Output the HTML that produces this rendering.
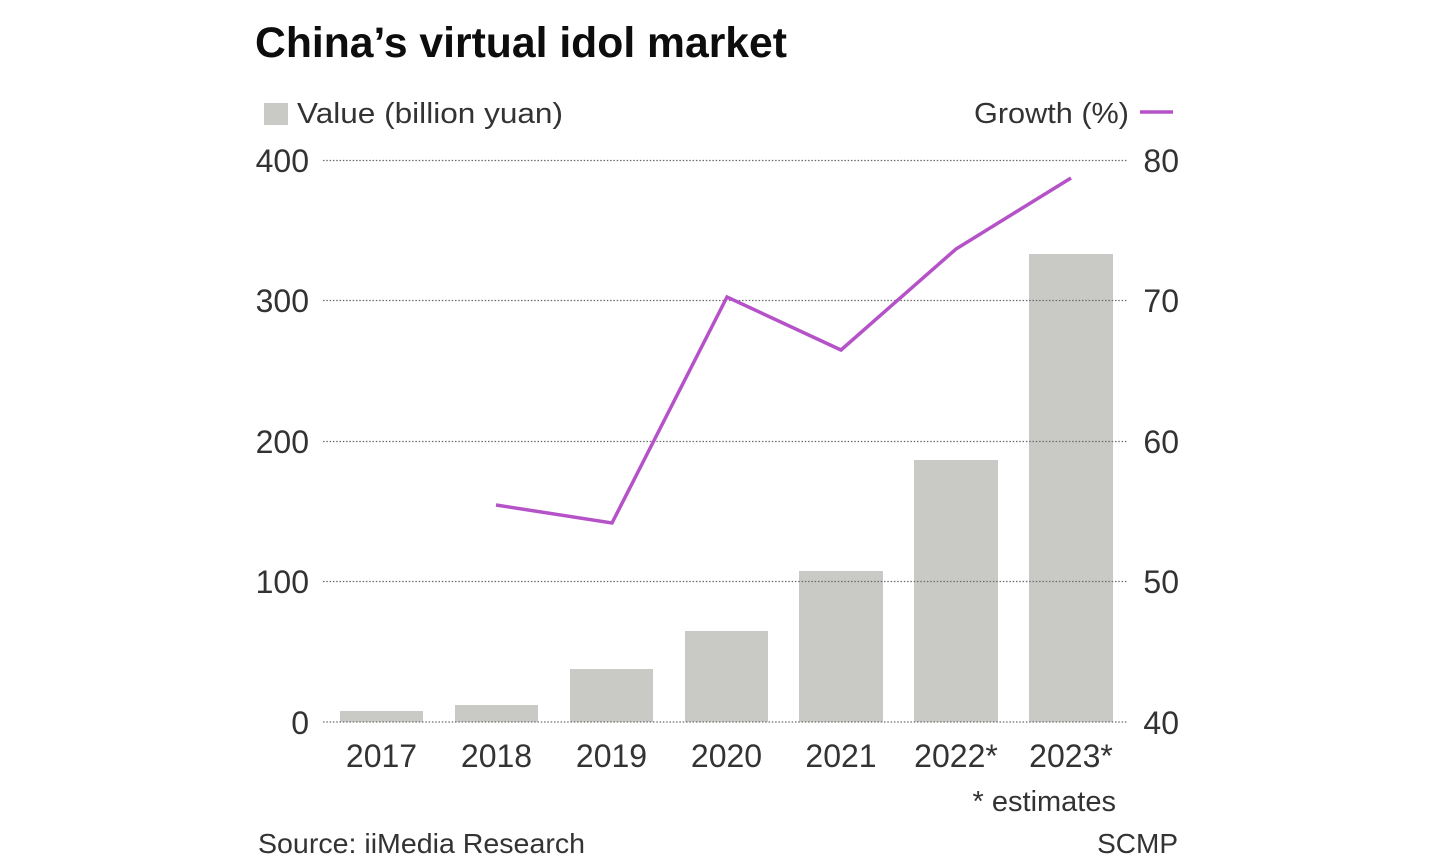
<!DOCTYPE html>
<html>
<head>
<meta charset="utf-8">
<style>
  html,body{margin:0;padding:0;background:#fff;}
  svg{display:block;}
  text{font-family:"Liberation Sans",sans-serif;}
</style>
</head>
<body>
<svg width="1429" height="866" viewBox="0 0 1429 866" xmlns="http://www.w3.org/2000/svg">
  <rect width="1429" height="866" fill="#fff"/>
  <!-- Title -->
  <text x="255" y="57" font-size="43" font-weight="bold" fill="#0d0d0d" textLength="532" lengthAdjust="spacingAndGlyphs">China’s virtual idol market</text>

  <!-- Legend -->
  <rect x="264" y="103" width="24" height="22" fill="#c9cac6"/>
  <text x="297" y="123" font-size="29" fill="#333" textLength="266" lengthAdjust="spacingAndGlyphs">Value (billion yuan)</text>
  <text x="974" y="123" font-size="29" fill="#333" textLength="155" lengthAdjust="spacingAndGlyphs">Growth (%)</text>
  <line x1="1140" y1="112" x2="1173" y2="112" stroke="#b552c8" stroke-width="3.5"/>

  <!-- Bars -->
  <g fill="#c9cac6">
    <rect x="340" y="711" width="83" height="11"/>
    <rect x="455" y="705" width="83" height="17"/>
    <rect x="570" y="669" width="83" height="53"/>
    <rect x="685" y="631" width="83" height="91"/>
    <rect x="799" y="571" width="84" height="151"/>
    <rect x="914" y="460" width="84" height="262"/>
    <rect x="1029" y="254" width="84" height="468"/>
  </g>

  <!-- Gridlines -->
  <g stroke="#6a6a6a" stroke-width="1.2" stroke-dasharray="1.5 1.8">
    <line x1="323" y1="160.5" x2="1127" y2="160.5"/>
    <line x1="323" y1="300.5" x2="1127" y2="300.5"/>
    <line x1="323" y1="441.5" x2="1127" y2="441.5"/>
    <line x1="323" y1="581.5" x2="1127" y2="581.5"/>
    <line x1="323" y1="722" x2="1127" y2="722"/>
  </g>

  <!-- Left axis labels -->
  <g font-size="32" fill="#333" text-anchor="end">
    <text x="309" y="172">400</text>
    <text x="309" y="312">300</text>
    <text x="309" y="453">200</text>
    <text x="309" y="593">100</text>
    <text x="309" y="734">0</text>
  </g>
  <!-- Right axis labels -->
  <g font-size="32" fill="#333" text-anchor="end">
    <text x="1179" y="172">80</text>
    <text x="1179" y="312">70</text>
    <text x="1179" y="453">60</text>
    <text x="1179" y="593">50</text>
    <text x="1179" y="734">40</text>
  </g>

  <!-- X labels -->
  <g font-size="32" fill="#333" text-anchor="middle">
    <text x="381.5" y="767">2017</text>
    <text x="496.5" y="767">2018</text>
    <text x="611.5" y="767">2019</text>
    <text x="726.5" y="767">2020</text>
    <text x="841" y="767">2021</text>
    <text x="956" y="767">2022*</text>
    <text x="1071" y="767">2023*</text>
  </g>

  <!-- Growth line -->
  <polyline points="496,505 612,523 727,297 841,350 956,249 1071,178" fill="none" stroke="#b552c8" stroke-width="3.5" stroke-linejoin="miter"/>

  <!-- Footnotes -->
  <text x="1116" y="811" font-size="29" fill="#333" text-anchor="end">* estimates</text>
  <text x="258" y="853" font-size="28" fill="#333" textLength="327" lengthAdjust="spacingAndGlyphs">Source: iiMedia Research</text>
  <text x="1178" y="853" font-size="28" fill="#333" text-anchor="end">SCMP</text>
</svg>
</body>
</html>
